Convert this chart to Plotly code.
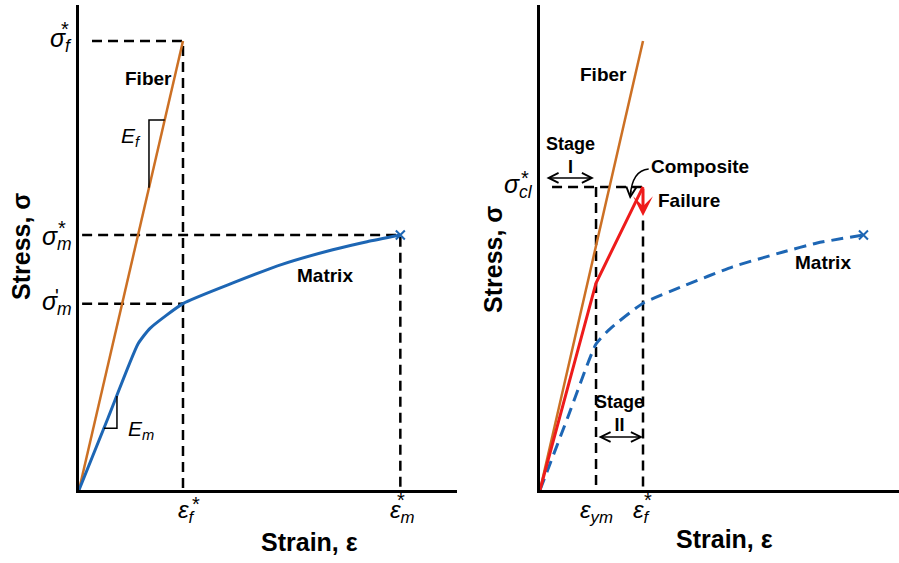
import plotly.graph_objects as go

W, H = 899, 563

# ---------------- data (arbitrary normalised units) ----------------
# left panel
fiber_strain = [0, 1.0]
fiber_stress = [0, 1.0]
matrix_strain_left = [0, 0.28, 0.567, 0.683, 1.0, 1.48, 1.96, 2.44, 2.77, 3.09]
matrix_stress_left = [0, 0.161, 0.325, 0.360, 0.415, 0.461, 0.503, 0.535, 0.553, 0.568]
eps_f = 1.0          # fibre failure strain
sig_f = 1.0          # fibre strength
eps_m = 3.09         # matrix failure strain
sig_m = 0.568        # matrix strength
sig_m_prime = 0.415  # matrix stress at fibre failure strain

# right panel
fiber_strain_r = [0, 1.0]
fiber_stress_r = [0, 1.0]
composite_strain = [0, 0.544, 1.0]
composite_stress = [0, 0.461, 0.675]
matrix_strain_right = [0, 0.27, 0.544, 0.68, 1.0, 1.39, 1.87, 2.36, 2.69, 3.14]
matrix_stress_right = [0, 0.162, 0.325, 0.359, 0.416, 0.454, 0.497, 0.530, 0.550, 0.568]
eps_ym = 0.544
eps_f_r = 1.0
sig_cl = 0.675

ORANGE = "#CC7024"
BLUE = "#1D66B4"
RED = "#EE1B1B"
FONT = "Liberation Sans, Arial, sans-serif"

fig = go.Figure()

DASH = "10px,6px"

# ---------------- left panel ----------------
fig.add_trace(go.Scatter(
    x=[0.125, eps_f, eps_f, None, 0.03, eps_m, eps_m, None, 0.03, eps_f],
    y=[sig_f, sig_f, 0, None, sig_m, sig_m, 0, None, sig_m_prime, sig_m_prime],
    mode="lines", line=dict(color="black", width=2.5, dash=DASH),
    xaxis="x", yaxis="y", hoverinfo="skip"))

fig.add_trace(go.Scatter(x=fiber_strain, y=fiber_stress, mode="lines",
                         line=dict(color=ORANGE, width=2.5), xaxis="x", yaxis="y"))
fig.add_trace(go.Scatter(x=matrix_strain_left, y=matrix_stress_left, mode="lines",
                         line=dict(color=BLUE, width=3, shape="spline", smoothing=0.5),
                         xaxis="x", yaxis="y"))
fig.add_trace(go.Scatter(x=[matrix_strain_left[-1]], y=[matrix_stress_left[-1]], mode="markers",
                         marker=dict(symbol="x-thin", size=9, line=dict(color=BLUE, width=2)),
                         xaxis="x", yaxis="y"))

# modulus triangles
ef_a, ef_b = 0.673, 0.824
slope_f = fiber_stress[1] / fiber_strain[1]
fig.add_trace(go.Scatter(x=[ef_a, ef_a, ef_b], y=[slope_f * ef_a, slope_f * ef_b, slope_f * ef_b],
                         mode="lines", line=dict(color="black", width=1.5), xaxis="x", yaxis="y"))
em_a, em_b = 0.240, 0.365
slope_m = matrix_stress_left[2] / matrix_strain_left[2]
fig.add_trace(go.Scatter(x=[em_a, em_b, em_b], y=[slope_m * em_a, slope_m * em_a, slope_m * em_b],
                         mode="lines", line=dict(color="black", width=1.5), xaxis="x", yaxis="y"))

# ---------------- right panel ----------------
fig.add_trace(go.Scatter(
    x=[0.117, eps_f_r, None, eps_ym, eps_ym, None, eps_f_r, eps_f_r],
    y=[sig_cl, sig_cl, None, sig_cl, 0, None, 0.60, 0],
    mode="lines", line=dict(color="black", width=2.5, dash=DASH),
    xaxis="x2", yaxis="y2", hoverinfo="skip"))

fig.add_trace(go.Scatter(x=fiber_strain_r, y=fiber_stress_r, mode="lines",
                         line=dict(color=ORANGE, width=2.5), xaxis="x2", yaxis="y2"))
fig.add_trace(go.Scatter(x=matrix_strain_right, y=matrix_stress_right, mode="lines",
                         line=dict(color=BLUE, width=3, dash="12px,7px", shape="spline", smoothing=0.5),
                         xaxis="x2", yaxis="y2"))
fig.add_trace(go.Scatter(x=[matrix_strain_right[-1]], y=[matrix_stress_right[-1]], mode="markers",
                         marker=dict(symbol="x-thin", size=9, line=dict(color=BLUE, width=2)),
                         xaxis="x2", yaxis="y2"))
fig.add_trace(go.Scatter(x=composite_strain, y=composite_stress, mode="lines",
                         line=dict(color=RED, width=3), xaxis="x2", yaxis="y2"))

# ---------------- axes ----------------
ydom = [73 / H, 558 / H]
axis_common = dict(showline=True, linecolor="black", linewidth=3, showgrid=False,
                   zeroline=False, showticklabels=False, ticks="", fixedrange=True)
fig.update_layout(
    width=W, height=H, margin=dict(l=0, r=0, t=0, b=0, autoexpand=False),
    paper_bgcolor="white", plot_bgcolor="white", showlegend=False,
    xaxis=dict(domain=[79 / W, 457 / W], range=[0, 3.635], anchor="y", **axis_common),
    yaxis=dict(domain=ydom, range=[0, 1.080], anchor="x", **axis_common),
    xaxis2=dict(domain=[540 / W, 1.0], range=[0, 3.485], anchor="y2", **axis_common),
    yaxis2=dict(domain=ydom, range=[0, 1.080], anchor="x2", **axis_common),
)

ann = []


def P(px, py):
    return px / W, (H - py) / H


def text(px, py, s, size=19, bold=True, angle=0, italic=False):
    x, y = P(px, py)
    if bold:
        s = "<b>" + s + "</b>"
    if italic:
        s = "<i>" + s + "</i>"
    ann.append(dict(x=x, y=y, xref="paper", yref="paper", text=s, showarrow=False,
                    xanchor="center", yanchor="middle", textangle=angle,
                    font=dict(family=FONT, size=size, color="black")))


# bold labels
text(148.5, 78, "Fiber", 19)
text(325, 275, "Matrix", 19)
text(603, 74, "Fiber", 19)
text(823, 262, "Matrix", 19)
text(700, 166, "Composite", 19)
text(689, 201, "Failure", 19)
text(570, 155, "Stage<br>I", 18)
text(619, 413, "Stage<br>II", 18)
text(21, 247, "Stress, σ", 25, angle=-90)
text(493, 259, "Stress, σ", 25, angle=-90)
text(309, 542, "Strain, ε", 25)
text(724, 539, "Strain, ε", 25)
# modulus labels
text(131, 137, "E<sub>f</sub>", 21, bold=False, italic=True)
text(141, 430, "E<sub>m</sub>", 21, bold=False, italic=True)


def tick_y(val, s, axis, star=None, xs=-5, ys=2):
    xr, yr = ("x", "y") if axis == 1 else ("x2", "y2")
    ann.append(dict(x=0, y=val, xref=xr, yref=yr, text="<i>" + s + "</i>", showarrow=False,
                    xanchor="right", yanchor="middle", xshift=xs, yshift=ys,
                    font=dict(family=FONT, size=25, color="black")))
    if star:
        ann.append(dict(x=0, y=val, xref=xr, yref=yr, text=star[0], showarrow=False,
                        xanchor="center", yanchor="middle", xshift=star[1], yshift=star[2],
                        font=dict(family=FONT, size=20, color="black")))


def tick_x(val, s, axis, star=None, xs=0, ys=-21):
    xr, yr = ("x", "y") if axis == 1 else ("x2", "y2")
    ann.append(dict(x=val, y=0, xref=xr, yref=yr, text="<i>" + s + "</i>", showarrow=False,
                    xanchor="center", yanchor="middle", xshift=xs, yshift=ys,
                    font=dict(family=FONT, size=24, color="black")))
    if star:
        ann.append(dict(x=val, y=0, xref=xr, yref=yr, text=star[0], showarrow=False,
                        xanchor="center", yanchor="middle", xshift=star[1], yshift=star[2],
                        font=dict(family=FONT, size=20, color="black")))


tick_y(sig_f, "σ<sub>f</sub>", 1, star=("*", -14, 12), ys=1)
tick_y(sig_m, "σ<sub>m</sub>", 1, star=("*", -17, 7), ys=-3)
tick_y(sig_m_prime, "σ<sub>m</sub>", 1, star=("'", -22, 8), ys=1)
tick_y(sig_cl, "σ<sub>cl</sub>", 2, star=("*", -15, 9), ys=1)
tick_x(eps_f, "ε<sub>f</sub>", 1, star=("*", 13, -14), xs=4)
tick_x(eps_m, "ε<sub>m</sub>", 1, star=("*", 1, -10), xs=2)
tick_x(eps_ym, "ε<sub>ym</sub>", 2, xs=0)
tick_x(eps_f_r, "ε<sub>f</sub>", 2, star=("*", 5, -10), xs=-1)

# failure arrow (red)
ann.append(dict(x=eps_f_r, y=0.610, xref="x2", yref="y2", ax=0, ay=-29, text="",
                showarrow=True, arrowhead=3, arrowsize=1.1, arrowwidth=3, arrowcolor=RED, standoff=0))
# stage I double arrow
ann.append(dict(x=0.524, y=0.695, xref="x2", yref="y2", ax=-49, ay=0, text="",
                showarrow=True, arrowhead=5, arrowside="end+start", arrowsize=1.3, arrowwidth=1.5,
                arrowcolor="black", standoff=0, startstandoff=0))
# stage II double arrow
ann.append(dict(x=eps_f_r, y=0.118, xref="x2", yref="y2", ax=-46, ay=0, text="",
                showarrow=True, arrowhead=5, arrowside="end+start", arrowsize=1.3, arrowwidth=1.5,
                arrowcolor="black", standoff=0, startstandoff=0))
# composite pointer head
ann.append(dict(x=0.874, y=0.648, xref="x2", yref="y2", ax=1, ay=-10, text="",
                showarrow=True, arrowhead=5, arrowsize=1.3, arrowwidth=1.5,
                arrowcolor="black", standoff=0))

fig.update_layout(annotations=ann)

# curved pointer from "Composite"
fig.add_shape(type="path", xref="x2", yref="y2",
              path="M 1.055,0.715 Q 0.895,0.712 0.876,0.655",
              line=dict(color="black", width=1.5))

fig.write_html("out.html", config={"displayModeBar": False},
               post_script="document.body.style.margin='0';document.body.style.overflow='hidden';")
